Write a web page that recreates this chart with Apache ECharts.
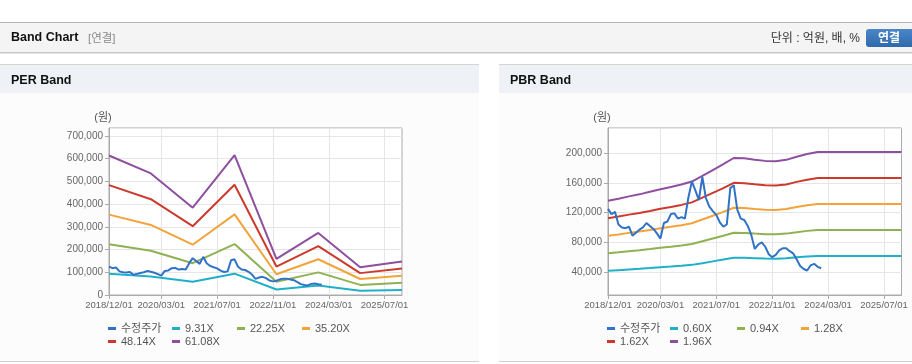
<!DOCTYPE html>
<html><head><meta charset="utf-8">
<script src="https://cdn.jsdelivr.net/npm/echarts@6/dist/echarts.min.js"></script>
<style>html,body{margin:0;padding:0;background:#fff;}#c{width:912px;height:364px;}</style>
</head><body><div id="c"></div>
<script>
// ---------- categories (monthly, 2018/12 .. 2025/12) ----------
const months = [];
for (let y = 2018, m = 12; !(y === 2026 && m === 1); ) {
  months.push(y + '/' + String(m).padStart(2, '0') + '/01');
  m++; if (m > 12) { m = 1; y++; }
}
const xTickLabels = ['2018/12/01', '2020/03/01', '2021/07/01', '2022/11/01', '2024/03/01', '2025/07/01'];

// ---------- adjusted price (수정주가), monthly from 2018/12 ----------
const priceValues = [125000,118000,121000,104000,100000,99000,101000,89000,93000,97000,
  100000,106000,102000,98000,92000,85000,106000,108000,118000,119000,
  112000,114000,112000,140000,162000,150000,137000,168000,140000,128000,
  122000,117000,107000,101000,104000,153000,157000,124000,112000,110000,
  102000,90000,71000,77000,80000,74000,64000,60000,63000,69000,
  72000,72000,68000,65000,57000,48000,44000,42000,49000,51000,
  47000,45000];

// ---------- PER band (yearly points) ----------
const perDates = ['2018/12/01','2019/12/01','2020/12/01','2021/12/01','2022/12/01','2023/12/01','2024/12/01','2025/12/01'];
const perNames = ['9.31X','22.25X','35.20X','48.14X','61.08X'];
const per931  = [93600, 81600, 58600, 93800, 24200, 41600, 18600, 22500];
const per2225 = [223600,194900,140000,224300,57900, 99500, 44500, 53800];
const per3520 = [353800,308400,221400,354800,91500, 157300,70400, 85200];
const per4814 = [483800,421700,302800,485300,125200,215200,96300, 116500];
const per6108 = [613900,535100,384200,615700,158800,273000,122200,147800];

// ---------- PBR band (quarterly points) ----------
const pbrDates = ['2018/12/01','2019/03/01','2019/06/01','2019/09/01','2019/12/01','2020/03/01','2020/06/01','2020/09/01',
  '2020/12/01','2021/03/01','2021/06/01','2021/09/01','2021/12/01','2022/03/01','2022/06/01','2022/09/01',
  '2022/12/01','2023/03/01','2023/06/01','2023/09/01','2023/12/01','2024/03/01','2024/06/01','2024/09/01',
  '2024/12/01','2025/03/01','2025/06/01','2025/09/01','2025/12/01'];
const pbrNames = ['0.60X','0.94X','1.28X','1.62X','1.96X'];
const pbr060 = [41600,42500,43400,44300,45300,46400,47300,48300,49600,51900,54300,56700,59300,59100,58600,58100,
  58000,58500,59800,60900,61700,61700,61700,61700,61700,61700,61700,61700,61700];
const pbr094 = [65200,66600,68100,69400,71000,72700,74100,75700,77600,81300,85100,88800,92900,92600,91700,91000,
  90800,91700,93600,95400,96700,96700,96700,96700,96700,96700,96700,96700,96700];
const pbr128 = [88800,90600,92700,94500,96600,98900,100900,103000,105700,110700,115800,121000,126500,126100,124900,123900,
  123600,124800,127500,129900,131700,131700,131700,131700,131700,131700,131700,131700,131700];
const pbr162 = [112400,114700,117300,119600,122300,125200,127700,130400,133800,140100,146600,153100,160100,159600,158100,156800,
  156500,158000,161400,164400,166700,166700,166700,166700,166700,166700,166700,166700,166700];
const pbr196 = [136000,138800,141900,144600,148000,151500,154400,157800,161900,169500,177400,185200,193600,193100,191300,189700,
  189300,191100,195200,198900,201700,201700,201700,201700,201700,201700,201700,201700,201700];

const colors = {price:'#3172c6', b1:'#1fb0c8', b2:'#8fb152', b3:'#f2a33a', b4:'#cc3a2e', b5:'#8f4f9f'};
const FONT = '"Liberation Sans", "Noto Sans CJK KR", sans-serif';

const pair = (dates, vals) => vals.map((v, i) => [dates[i], v]);
const tickSet = new Set(xTickLabels.map(d => months.indexOf(d)));
const showIdx = (i) => tickSet.has(i);

function xAxisCfg(gi) {
  return {
    type: 'category', gridIndex: gi, data: months, boundaryGap: false,
    axisLine: {show: true, lineStyle: {color: '#aaaaaa'}},
    axisTick: {show: true, length: 4, interval: showIdx, lineStyle: {color: '#aaaaaa'}},
    axisLabel: {interval: showIdx, margin: 6, color: '#666', fontSize: 9.5, fontFamily: FONT},
    splitLine: {show: true, interval: showIdx, lineStyle: {color: '#e6e6e6'}}
  };
}
function yAxisCfg(gi, extra) {
  return Object.assign({
    type: 'value', gridIndex: gi,
    axisLine: {show: true, lineStyle: {color: '#aaaaaa'}},
    axisTick: {show: true, length: 4, lineStyle: {color: '#aaaaaa'}},
    axisLabel: {margin: 6, color: '#666', fontSize: 10, fontFamily: FONT, showMaxLabel: false,
      formatter: v => Math.round(v).toLocaleString('en-US')},
    splitLine: {show: true, lineStyle: {color: '#e6e6e6'}}
  }, extra);
}
function lineSeries(name, gi, data, color) {
  return {name, type: 'line', xAxisIndex: gi, yAxisIndex: gi, data, showSymbol: false, symbol: 'none',
    lineStyle: {width: 2, color}, itemStyle: {color}, animation: false, z: 2};
}

const series = [
  lineSeries('수정주가', 0, pair(months, priceValues), colors.price),
  lineSeries('9.31X', 0, pair(perDates, per931), colors.b1),
  lineSeries('22.25X', 0, pair(perDates, per2225), colors.b2),
  lineSeries('35.20X', 0, pair(perDates, per3520), colors.b3),
  lineSeries('48.14X', 0, pair(perDates, per4814), colors.b4),
  lineSeries('61.08X', 0, pair(perDates, per6108), colors.b5),
  lineSeries('수정주가', 1, pair(months, priceValues), colors.price),
  lineSeries('0.60X', 1, pair(pbrDates, pbr060), colors.b1),
  lineSeries('0.94X', 1, pair(pbrDates, pbr094), colors.b2),
  lineSeries('1.28X', 1, pair(pbrDates, pbr128), colors.b3),
  lineSeries('1.62X', 1, pair(pbrDates, pbr162), colors.b4),
  lineSeries('1.96X', 1, pair(pbrDates, pbr196), colors.b5)
];
// price lines drawn on top
series[0].z = 3; series[6].z = 3;

function legendItem(name, left, top) {
  return {data: [name], left, top, padding: 0, itemWidth: 8, itemHeight: 3, icon: 'rect',
    selectedMode: false, textStyle: {color: '#555', fontSize: 11, fontFamily: FONT}};
}
const legends = [
  legendItem('수정주가', 108, 323), legendItem('9.31X', 172, 323), legendItem('22.25X', 237, 323), legendItem('35.20X', 302, 323),
  legendItem('48.14X', 108, 336), legendItem('61.08X', 172, 336),
  legendItem('수정주가', 607, 323), legendItem('0.60X', 670, 323), legendItem('0.94X', 737, 323), legendItem('1.28X', 801, 323),
  legendItem('1.62X', 607, 336), legendItem('1.96X', 670, 336)
];

const txt = (x, y, text, style) => ({type: 'text', x, y, silent: true,
  style: Object.assign({text, fontFamily: FONT, fill: '#222', verticalAlign: 'middle'}, style)});
const rect = (x, y, w, h, fill, extra) => Object.assign({type: 'rect', silent: true, z: -10,
  shape: {x, y, width: w, height: h}, style: {fill}}, extra || {});

const graphic = [
  rect(0, 22, 912, 1, '#b4b4b4'),
  rect(0, 23, 912, 29, '#f4f4f4'),
  rect(0, 52, 912, 1, '#c4c4c4'),
  rect(0, 53, 912, 1, '#e6e6e6'),
  // PER panel
  rect(0, 64, 479, 1, '#d4d4d4'),
  rect(0, 65, 479, 28, '#eef2f7'),
  rect(0, 93, 479, 268, '#fcfcfc'),
  rect(0, 361, 479, 1, '#d0d0d0'),
  // PBR panel
  rect(499, 64, 413, 1, '#d4d4d4'),
  rect(499, 65, 413, 28, '#eef2f7'),
  rect(499, 93, 413, 268, '#fcfcfc'),
  rect(499, 361, 413, 1, '#d0d0d0'),
  // button
  {type: 'rect', silent: true, shape: {x: 866, y: 29, width: 52, height: 18, r: 3},
    style: {fill: new echarts.graphic.LinearGradient(0, 0, 0, 1, [{offset: 0, color: '#4a86c8'}, {offset: 1, color: '#2f69ad'}])}},
  txt(889, 38.5, '연결', {fill: '#fff', fontSize: 12, fontWeight: 'bold', align: 'center'}),
  txt(11, 38, 'Band Chart', {fontSize: 12.5, fontWeight: 'bold', fill: '#111'}),
  txt(88, 38.5, '[연결]', {fontSize: 11.5, fill: '#8a8a8a'}),
  txt(860, 38.5, '단위 : 억원, 배, %', {fontSize: 12, fill: '#333', align: 'right'}),
  txt(11, 80.5, 'PER Band', {fontSize: 12.5, fontWeight: 'bold', fill: '#111'}),
  txt(510, 80.5, 'PBR Band', {fontSize: 12.5, fontWeight: 'bold', fill: '#111'}),
  txt(103, 118, '(원)', {fontSize: 11, fill: '#555', align: 'center'}),
  txt(602, 118, '(원)', {fontSize: 11, fill: '#555', align: 'center'})
];

const chart = echarts.init(document.getElementById('c'), null, {renderer: 'canvas'});
chart.setOption({
  animation: false,
  backgroundColor: '#ffffff',
  textStyle: {fontFamily: FONT},
  graphic,
  grid: [
    {left: 109, top: 128, width: 293, height: 167, show: true, borderColor: '#aaaaaa', borderWidth: 1, backgroundColor: '#fff', containLabel: false, outerBoundsMode: 'none'},
    {left: 608, top: 128, width: 293.5, height: 167, show: true, borderColor: '#aaaaaa', borderWidth: 1, backgroundColor: '#fff', containLabel: false, outerBoundsMode: 'none'}
  ],
  xAxis: [xAxisCfg(0), xAxisCfg(1)],
  yAxis: [
    yAxisCfg(0, {min: 0, max: 735000, interval: 100000}),
    yAxisCfg(1, {min: 9000, max: 234000, minInterval: 40000, maxInterval: 40000, splitNumber: 5,
      axisLabel: {margin: 6, color: '#666', fontSize: 10, fontFamily: FONT, showMaxLabel: false, showMinLabel: false,
        formatter: v => Math.round(v).toLocaleString('en-US')}})
  ],
  legend: legends,
  series
});
</script></body></html>
